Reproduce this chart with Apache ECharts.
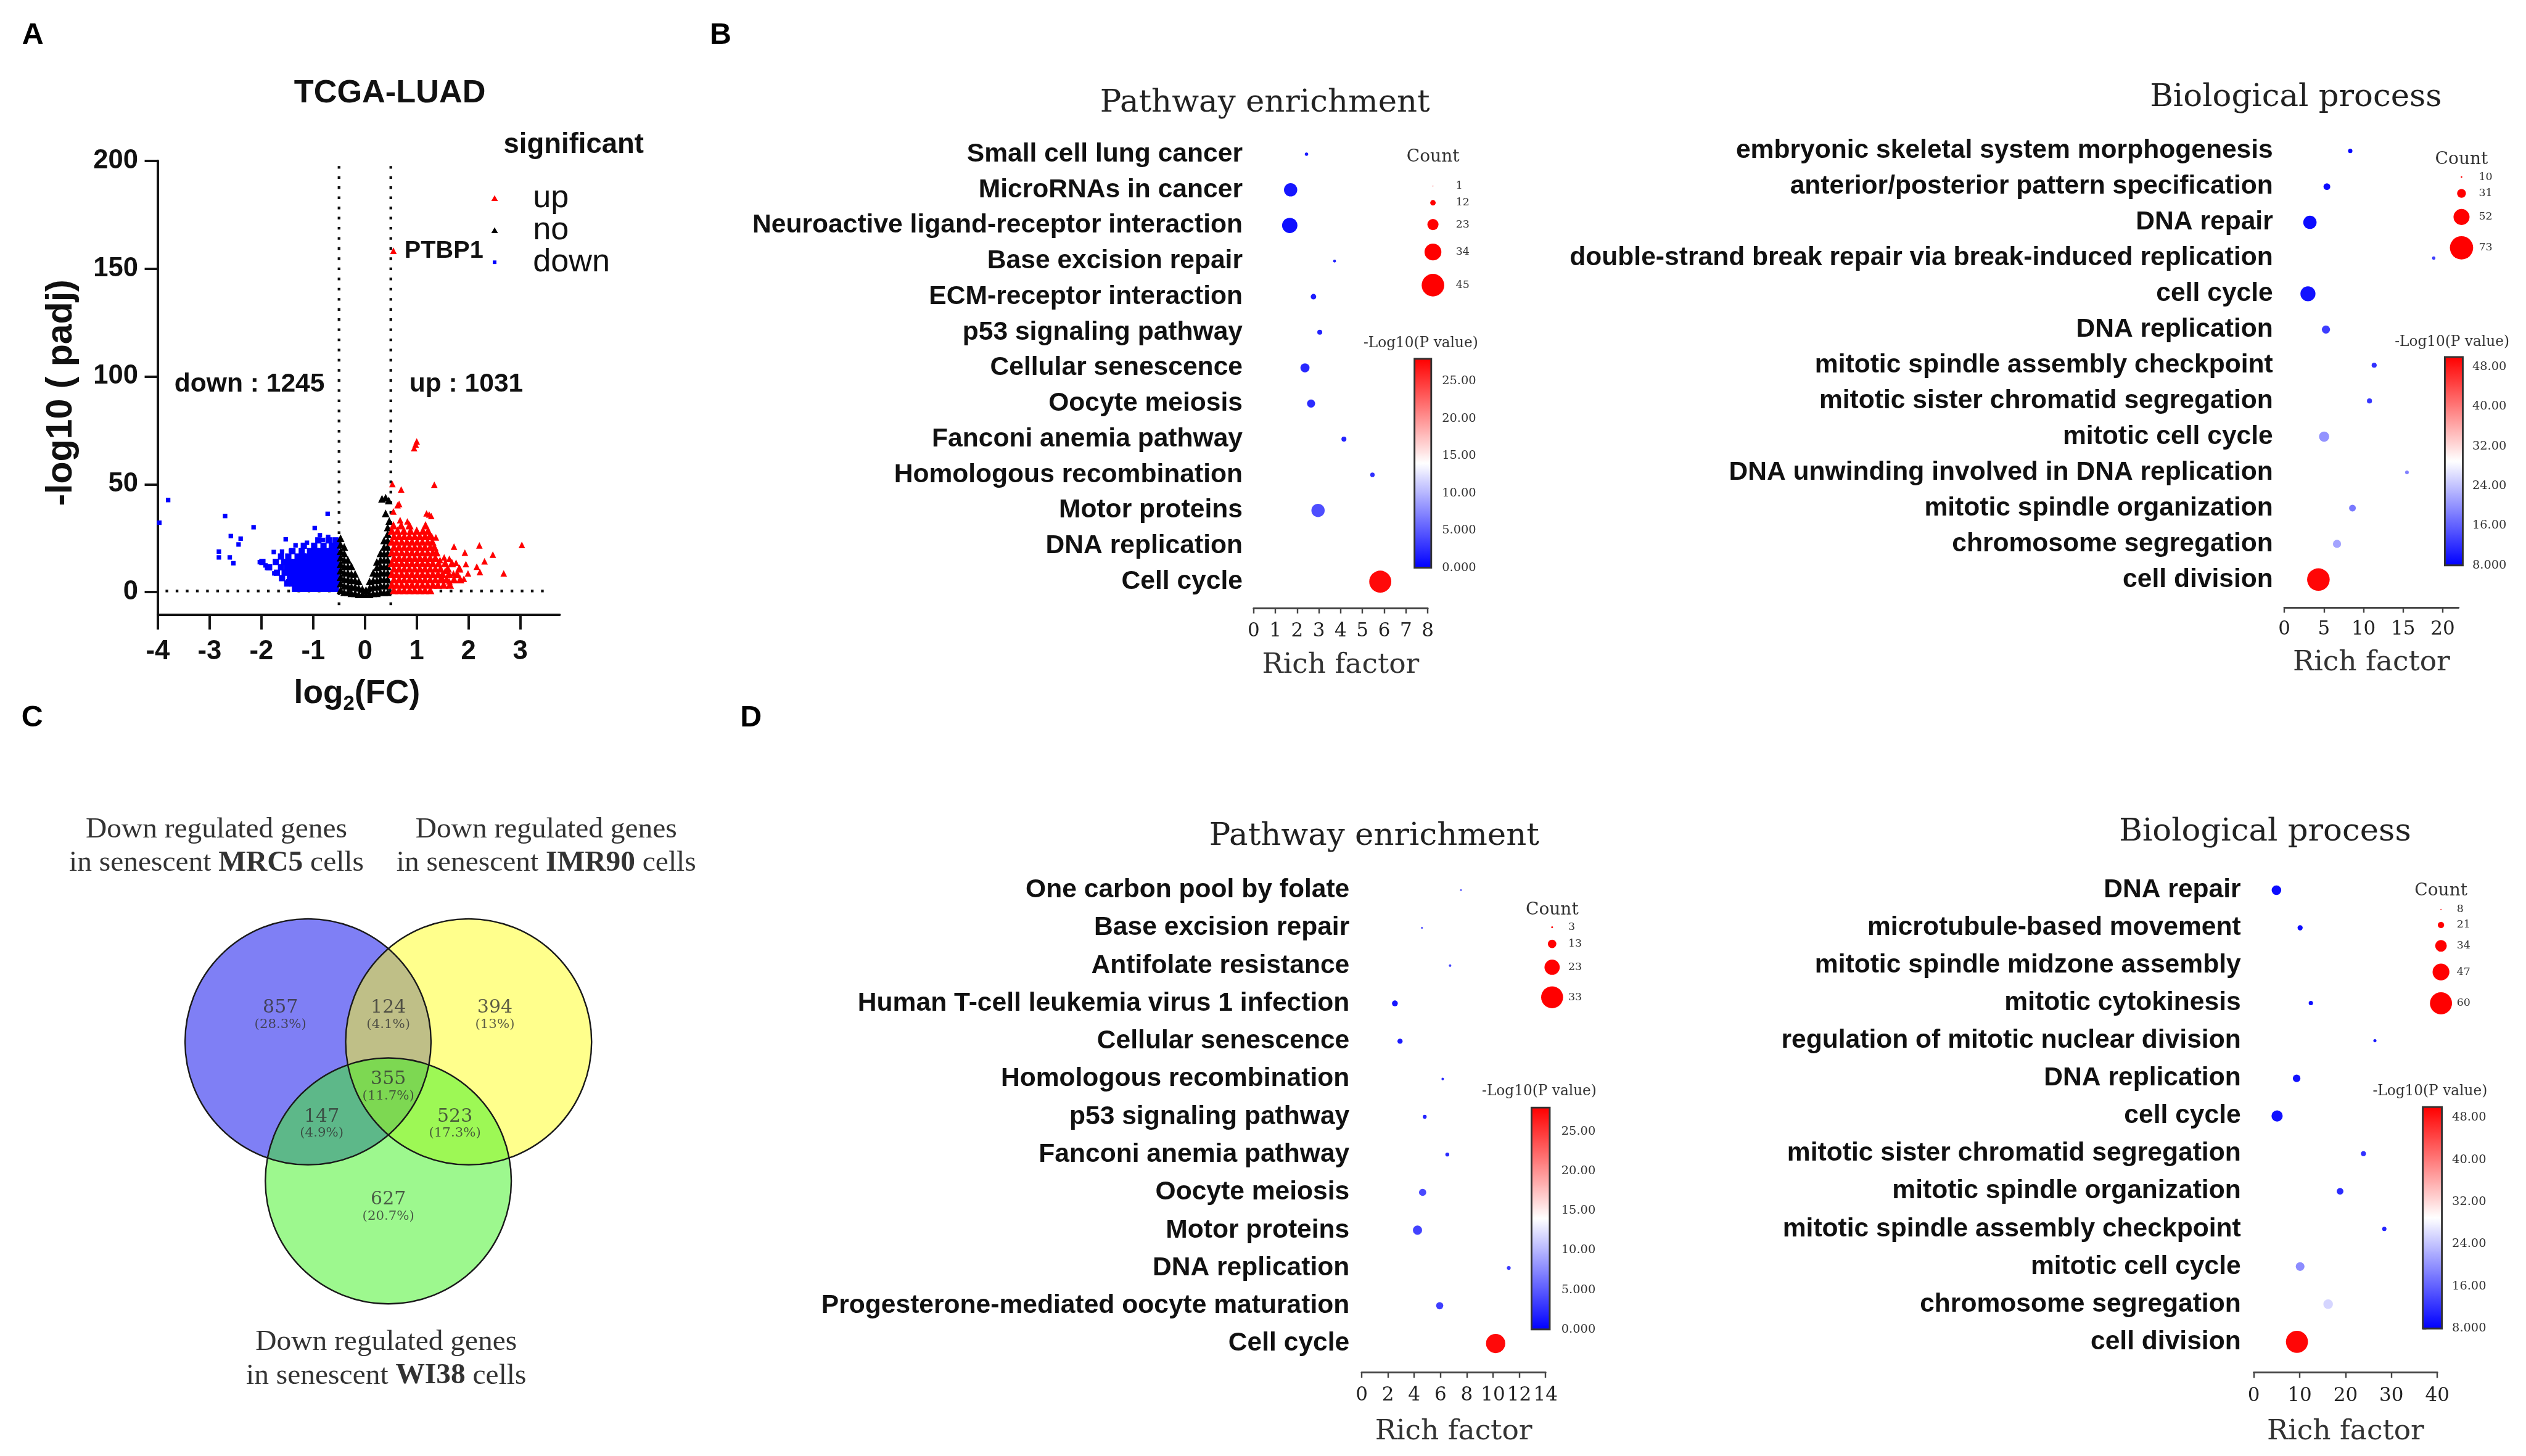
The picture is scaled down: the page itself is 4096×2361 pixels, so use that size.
<!DOCTYPE html>
<html><head><meta charset="utf-8">
<script src="https://cdn.jsdelivr.net/npm/echarts@6/dist/echarts.min.js"></script>
<style>html,body{margin:0;padding:0;background:#fff}#c{width:4096px;height:2361px}</style>
</head><body><div id="c"></div>
<script>
const S = 0.968;
const P = v => v * S;
const SANS = '"Liberation Sans", Arial, Helvetica, sans-serif';
const SERIF = '"Liberation Serif", "Times New Roman", serif';
const SERIF2 = '"DejaVu Serif", "Liberation Serif", serif';

// ================= DATA =================
// Panel A: volcano (log2FC, -log10 padj)
const volcanoXTicks = [-4, -3, -2, -1, 0, 1, 2, 3];
const volcanoYTicks = [0, 50, 100, 150, 200];
const foldThresholds = [-0.5, 0.5];
const padjLine = 0.5;
const ptbp1 = [0.55, 158.3];
const upCount = 1031, downCount = 1245;

// dense cloud of up-regulated genes
const volcanoUpDense = [
 [0.56,1],[0.66,1],[0.76,1],[0.86,1],[0.96,1],[1.06,1],[1.16,1],[1.26,1],
 [0.52,3.5],[0.61,3.5],[0.71,3.5],[0.81,3.5],[0.91,3.5],[1.01,3.5],[1.11,3.5],[1.21,3.5],[1.31,3.5],[1.41,3.5],[1.52,3.5],[1.64,3.5],
 [0.56,6],[0.66,6],[0.76,6],[0.86,6],[0.96,6],[1.06,6],[1.16,6],[1.26,6],[1.36,6],[1.46,6],[1.58,6],[1.72,6],[1.84,6],
 [0.52,8.5],[0.61,8.5],[0.71,8.5],[0.81,8.5],[0.91,8.5],[1.01,8.5],[1.11,8.5],[1.21,8.5],[1.31,8.5],[1.41,8.5],[1.5,8.5],[1.62,8.5],[1.78,8.5],
 [0.56,11],[0.66,11],[0.76,11],[0.86,11],[0.96,11],[1.06,11],[1.16,11],[1.26,11],[1.36,11],[1.46,11],[1.6,11],[1.82,11],
 [0.52,13.5],[0.61,13.5],[0.71,13.5],[0.81,13.5],[0.91,13.5],[1.01,13.5],[1.11,13.5],[1.21,13.5],[1.31,13.5],[1.42,13.5],[1.55,13.5],[1.68,13.5],
 [0.56,16],[0.66,16],[0.76,16],[0.86,16],[0.96,16],[1.06,16],[1.16,16],[1.26,16],[1.36,16],
 [0.52,18.5],[0.61,18.5],[0.71,18.5],[0.81,18.5],[0.91,18.5],[1.01,18.5],[1.11,18.5],[1.21,18.5],[1.31,18.5],[1.38,18.5],
 [0.56,21],[0.66,21],[0.76,21],[0.86,21],[0.96,21],[1.06,21],[1.16,21],[1.26,21],[1.34,21],
 [0.52,23.5],[0.61,23.5],[0.71,23.5],[0.81,23.5],[0.91,23.5],[1.01,23.5],[1.11,23.5],[1.21,23.5],[1.3,23.5],
 [0.56,26],[0.66,26],[0.76,26],[0.86,26],[0.96,26],[1.06,26],[1.16,26],[1.25,26],
 [0.52,28.5],[0.63,28.5],[0.75,28.5],[0.88,28.5],[1.0,28.5],[1.12,28.5],[1.22,28.5],
 [0.55,31],[0.7,31],[0.86,31],[1.17,31]
];
// scattered up-regulated genes
const volcanoUpSparse = [
 [1.00,69.9],[0.95,66.8],[0.98,68.5],[0.53,50.1],[0.70,47.6],[1.34,49.8],[0.66,40.9],[0.63,40.3],[0.55,37.4],
 [1.19,36.5],[1.28,35.3],[1.24,36.0],[0.68,33.4],[0.82,32.8],[1.72,21.1],[2.21,21.7],[3.03,21.9],[1.93,18.3],
 [2.47,17.4],[2.31,14.3],[2.16,11.8],[2.22,9.3],[2.68,8.7],[1.91,6.2],[1.99,8.7],[1.95,13.0],
 [1.45,14.9],[1.53,16.1],[1.63,15.5],[1.76,13.6],[1.83,11.2],[1.55,9.9],[1.71,8.7],[1.50,6.2],[1.63,5.0],
 [1.40,3.2],[1.29,26],[1.37,25.4]
];
const volcanoNo = [
 [-0.47,1],[-0.47,4],[-0.47,7],[-0.47,10],[-0.47,13],[-0.47,16],[-0.47,19],[-0.47,22],[-0.47,25],
 [-0.40,0],[-0.40,3],[-0.40,6],[-0.40,9],[-0.40,12],[-0.40,15],[-0.40,18],[-0.40,21],
 [-0.33,0],[-0.33,3],[-0.33,6],[-0.33,9],[-0.33,12],[-0.33,15],
 [-0.26,-0.5],[-0.26,2.5],[-0.26,5.5],[-0.26,8.5],[-0.26,12],
 [-0.19,-0.5],[-0.19,2.5],[-0.19,5.5],[-0.19,8.5],
 [-0.12,-1],[-0.12,2],[-0.12,5],
 [-0.05,-1],[-0.05,1.5],[0.02,-1],[0.02,1],
 [0.09,-1],[0.09,2],[0.09,5],
 [0.16,-0.5],[0.16,2.5],[0.16,5.5],[0.16,9],
 [0.23,-0.5],[0.23,2.5],[0.23,5.5],[0.23,8.5],[0.23,11.5],[0.23,14],
 [0.30,0],[0.30,3],[0.30,6],[0.30,9],[0.30,12],[0.30,15],[0.30,18],
 [0.37,0],[0.37,3],[0.37,6],[0.37,9],[0.37,12],[0.37,15],[0.37,18],[0.37,21],[0.37,24],
 [0.44,0],[0.44,3],[0.44,6],[0.44,9],[0.44,12],[0.44,15],[0.44,18],[0.44,21],[0.44,24],[0.44,27],[0.44,30],
 [0.33,43.3],[0.40,43.8],[0.46,42.5],[0.40,36.5],[0.47,33]
];
// dense cloud of down-regulated genes
const volcanoDownDense = [
 [-1.35,1.5],[-1.25,1.5],[-1.15,1.5],[-1.05,1.5],[-0.95,1.5],[-0.85,1.5],[-0.75,1.5],[-0.65,1.5],[-0.56,1.5],
 [-1.5,4],[-1.4,4],[-1.3,4],[-1.2,4],[-1.1,4],[-1.0,4],[-0.9,4],[-0.8,4],[-0.7,4],[-0.6,4],[-0.52,4],
 [-1.6,6.5],[-1.45,6.5],[-1.35,6.5],[-1.25,6.5],[-1.15,6.5],[-1.05,6.5],[-0.95,6.5],[-0.85,6.5],[-0.75,6.5],[-0.65,6.5],[-0.56,6.5],
 [-1.7,9],[-1.55,9],[-1.45,9],[-1.35,9],[-1.25,9],[-1.15,9],[-1.05,9],[-0.95,9],[-0.85,9],[-0.75,9],[-0.65,9],[-0.55,9],
 [-1.85,11.5],[-1.62,11.5],[-1.5,11.5],[-1.4,11.5],[-1.3,11.5],[-1.2,11.5],[-1.1,11.5],[-1.0,11.5],[-0.9,11.5],[-0.8,11.5],[-0.7,11.5],[-0.6,11.5],[-0.52,11.5],
 [-1.98,14],[-1.72,14],[-1.56,14],[-1.45,14],[-1.35,14],[-1.25,14],[-1.15,14],[-1.05,14],[-0.95,14],[-0.85,14],[-0.75,14],[-0.65,14],[-0.55,14],
 [-1.62,16.5],[-1.48,16.5],[-1.3,16.5],[-1.2,16.5],[-1.1,16.5],[-1.0,16.5],[-0.9,16.5],[-0.8,16.5],[-0.7,16.5],[-0.6,16.5],[-0.52,16.5],
 [-1.4,19],[-1.22,19],[-1.06,19],[-0.95,19],[-0.85,19],[-0.75,19],[-0.66,19],[-0.56,19],
 [-1.18,21.5],[-0.98,21.5],[-0.8,21.5],[-0.64,21.5],[-0.54,21.5],
 [-0.9,24],[-0.7,24],[-0.57,24]
];
// scattered down-regulated genes
const volcanoDownSparse = [
 [-3.80,42.7],[-3.97,32.2],[-2.70,35.3],[-2.15,30.1],[-2.59,26.0],[-2.40,24.8],[-2.44,22.1],[-2.82,18.8],
 [-2.82,16.1],[-2.61,16.1],[-2.54,13.4],[-0.72,36.3],[-0.97,29.7],[-1.53,24.5],[-0.87,26.4],[-0.71,25.6],
 [-1.76,18.6],[-1.60,18.8],[-1.34,21.7],[-1.43,19.2],[-2.03,13.9],[-1.92,12.4],[-1.89,11.2],[-1.75,8.7],
 [-1.48,5.0],[-1.33,2.5],[-1.12,22.9],[-0.81,24.2],[-0.55,22.3],[-0.63,19.2]
];

// Panel B left: KEGG pathway enrichment
const bLeftCats = ['Small cell lung cancer','MicroRNAs in cancer','Neuroactive ligand-receptor interaction','Base excision repair','ECM-receptor interaction','p53 signaling pathway','Cellular senescence','Oocyte meiosis','Fanconi anemia pathway','Homologous recombination','Motor proteins','DNA replication','Cell cycle'];
const bLeftRich = [2.43, 1.70, 1.66, 3.72, 2.75, 3.04, 2.36, 2.64, 4.15, 5.46, 2.96, 7.7, 5.82];
const bLeftCount = [8, 27, 31, 7, 12, 11, 19, 17, 11, 10, 27, 10, 44];
const bLeftLogP = [1.5, 1.2, 0.8, 1.8, 1.6, 2.0, 2.2, 2.4, 2.0, 2.6, 4.3, 3.0, 27.5];
const bLeftLegendCounts = [1, 12, 23, 34, 45];

// Panel B right: GO biological process
const bRightCats = ['embryonic skeletal system morphogenesis','anterior/posterior pattern specification','DNA repair','double-strand break repair via break-induced replication','cell cycle','DNA replication','mitotic spindle assembly checkpoint','mitotic sister chromatid segregation','mitotic cell cycle','DNA unwinding involved in DNA replication','mitotic spindle organization','chromosome segregation','cell division'];
const bRightRich = [8.32, 5.37, 3.23, 18.86, 2.98, 5.25, 11.34, 10.75, 5.02, 15.48, 8.6, 6.65, 4.3];
const bRightCount = [18, 25, 44, 15, 49, 29, 20, 20, 35, 16, 25, 29, 71];
const bRightLogP = [8.5, 9, 9, 13, 9.5, 13, 12, 12.5, 20, 18.5, 18, 21.5, 49.5];
const bRightLegendCounts = [10, 31, 52, 73];

// Panel D left: KEGG pathway enrichment
const dLeftCats = ['One carbon pool by folate','Base excision repair','Antifolate resistance','Human T-cell leukemia virus 1 infection','Cellular senescence','Homologous recombination','p53 signaling pathway','Fanconi anemia pathway','Oocyte meiosis','Motor proteins','DNA replication','Progesterone-mediated oocyte maturation','Cell cycle'];
const dLeftRich = [7.56, 4.59, 6.73, 2.53, 2.92, 6.17, 4.8, 6.52, 4.64, 4.25, 11.2, 5.94, 10.2];
const dLeftCount = [3, 3, 4, 9, 8, 4, 6, 6, 11, 14, 6, 11, 29];
const dLeftLogP = [4.5, 3.5, 3.5, 1.2, 1.5, 2.5, 2.0, 2.2, 4.0, 3.6, 3.2, 3.4, 27.5];
const dLeftLegendCounts = [3, 13, 23, 33];

// Panel D right: GO biological process
const dRightCats = ['DNA repair','microtubule-based movement','mitotic spindle midzone assembly','mitotic cytokinesis','regulation of mitotic nuclear division','DNA replication','cell cycle','mitotic sister chromatid segregation','mitotic spindle organization','mitotic spindle assembly checkpoint','mitotic cell cycle','chromosome segregation','cell division'];
const dRightRich = [4.93, 10.09, null, 12.43, 26.4, 9.33, 5.07, 23.9, 18.8, 28.45, 10.09, 16.2, 9.4];
const dRightCount = [29, 18, null, 16, 13, 24, 33, 18, 22, 16, 27, 29, 60];
const dRightLogP = [9, 9, null, 9, 10, 9.5, 9.5, 12, 11.5, 11, 19.5, 25.5, 49.5];
const dRightLegendCounts = [8, 21, 34, 47, 60];

// Panel C: Venn
const vennSets = ['MRC5', 'IMR90', 'WI38'];
const vennCounts = [857, 124, 394, 355, 147, 523, 627];
const vennPercents = [28.3, 4.1, 13, 11.7, 4.9, 17.3, 20.7];

// ================= LAYOUT / BUILD =================
const grids = [], xAxes = [], yAxes = [], series = [], visualMaps = [], graphics = [];
function addGrid(g) { grids.push(Object.assign({ containLabel: false, outerBoundsMode: 'none' }, g)); return grids.length - 1; }
function txt(x, y, text, style, extra) {
  graphics.push(Object.assign({ type: 'text', x: P(x), y: P(y), silent: true,
    style: Object.assign({ text: text, align: 'center', verticalAlign: 'middle', fill: '#111' }, style) }, extra || {}));
}

// ---- Panel A: volcano ----
const vg0 = addGrid({ left: P(264.3), top: P(269.4), width: P(673.2), height: P(760.1) });
xAxes.push({ gridIndex: vg0, type: 'value', min: -4, max: 3.76,
  axisLine: { show: true, onZero: false, lineStyle: { color: '#111', width: P(4) } },
  axisTick: { show: true, length: P(25), lineStyle: { color: '#111', width: P(4) }, customValues: volcanoXTicks },
  axisLabel: { customValues: volcanoXTicks, margin: P(40), fontFamily: SANS, fontWeight: 'bold', fontSize: P(45), color: '#111' },
  splitLine: { show: false } });
yAxes.push({ gridIndex: vg0, type: 'value', min: -10.4, max: 200,
  axisLine: { show: true, onZero: false, lineStyle: { color: '#111', width: P(4) } },
  axisTick: { show: true, length: P(22), lineStyle: { color: '#111', width: P(4) }, customValues: volcanoYTicks },
  axisLabel: { customValues: volcanoYTicks, margin: P(33), fontFamily: SANS, fontWeight: 'bold', fontSize: P(45), color: '#111' },
  splitLine: { show: false } });
const dotStyle = { color: '#111', width: P(4.5), type: [P(4.5), P(12.5)] };
foldThresholds.forEach(fx => series.push({ type: 'line', xAxisIndex: 0, yAxisIndex: 0, symbol: 'none', silent: true,
  data: [[fx, -6], [fx, 200]], lineStyle: dotStyle, z: 1 }));
series.push({ type: 'line', xAxisIndex: 0, yAxisIndex: 0, symbol: 'none', silent: true,
  data: [[-3.85, padjLine], [3.58, padjLine]], lineStyle: dotStyle, z: 1 });
series.push({ name: 'down', type: 'scatter', xAxisIndex: 0, yAxisIndex: 0, symbol: 'rect', symbolSize: P(10.5),
  itemStyle: { color: '#0000ff', opacity: 1 }, data: volcanoDownDense, silent: true });
series.push({ name: 'down', type: 'scatter', xAxisIndex: 0, yAxisIndex: 0, symbol: 'rect', symbolSize: P(7.5),
  itemStyle: { color: '#0000ff', opacity: 1 }, data: volcanoDownSparse, silent: true });
series.push({ name: 'no', type: 'scatter', xAxisIndex: 0, yAxisIndex: 0, symbol: 'triangle', symbolSize: P(13),
  itemStyle: { color: '#000000', opacity: 1 }, data: volcanoNo, silent: true });
series.push({ name: 'up', type: 'scatter', xAxisIndex: 0, yAxisIndex: 0, symbol: 'triangle', symbolSize: P(14),
  itemStyle: { color: '#ff0000', opacity: 1 }, data: volcanoUpDense, silent: true });
series.push({ name: 'up', type: 'scatter', xAxisIndex: 0, yAxisIndex: 0, symbol: 'triangle', symbolSize: P(11),
  itemStyle: { color: '#ff0000', opacity: 1 }, silent: true,
  data: volcanoUpSparse.concat([{ value: ptbp1, label: { show: true, formatter: 'PTBP1', position: 'right', distance: P(13),
    fontFamily: SANS, fontWeight: 'bold', fontSize: P(41), color: '#111' } }]) });

txt(55, 60, 'A', { fontFamily: SANS, fontWeight: 'bold', fontSize: P(50), fill: '#000' });
txt(1207, 60, 'B', { fontFamily: SANS, fontWeight: 'bold', fontSize: P(50), fill: '#000' });
txt(54, 1203, 'C', { fontFamily: SANS, fontWeight: 'bold', fontSize: P(50), fill: '#000' });
txt(1258, 1203, 'D', { fontFamily: SANS, fontWeight: 'bold', fontSize: P(50), fill: '#000' });
txt(653, 157, 'TCGA-LUAD', { fontFamily: SANS, fontWeight: 'bold', fontSize: P(54) });
txt(961, 243, 'significant', { fontFamily: SANS, fontWeight: 'bold', fontSize: P(47) });
txt(418, 644, 'down : ' + downCount, { fontFamily: SANS, fontWeight: 'bold', fontSize: P(44) });
txt(781, 644, 'up : ' + upCount, { fontFamily: SANS, fontWeight: 'bold', fontSize: P(44) });
txt(103, 658, '-log10 ( padj)', { fontFamily: SANS, fontWeight: 'bold', fontSize: P(61) }, { rotation: Math.PI / 2 });
txt(598, 1163, '{m|log}{s|2}{m|(FC)}', { fontFamily: SANS, fontWeight: 'bold', fontSize: P(55),
  rich: { m: { fontFamily: SANS, fontWeight: 'bold', fontSize: P(55), lineHeight: P(68), fill: '#111' },
          s: { fontFamily: SANS, fontWeight: 'bold', fontSize: P(34), lineHeight: P(34), verticalAlign: 'bottom', fill: '#111' } } });

// ---- Bubble panels ----
const panels = [
  { title: 'Pathway enrichment', cats: bLeftCats, rich: bLeftRich, count: bLeftCount, logp: bLeftLogP, lc: bLeftLegendCounts,
    xMax: 8, xTicks: [0,1,2,3,4,5,6,7,8], cMin: 0, cMax: 28, cTicks: [0,5,10,15,20,25], size: [0.867, -1.2],
    L: { x0: 2100, x1: 2391.6, row0: 258.3, step: 59.67, axisY: 1018.6, labelRight: 2081.6, tickY: 1057.5, nameY: 1114.4,
         title: [2119, 173.7], countX: 2400.4, countY0: 311.8, countGap: 22.5, countDx: 38.3, countTitleY: 263.4,
         bar: [2369.5, 601, 28, 350], barTitle: [2380, 575.6], barMargin: 18 } },
  { title: 'Biological process', cats: bRightCats, rich: bRightRich, count: bRightCount, logp: bRightLogP, lc: bRightLegendCounts,
    xMax: 22, xTicks: [0,5,10,15,20], cMin: 8, cMax: 50, cTicks: [8,16,24,32,40,48], size: [0.576, -3.06],
    L: { x0: 3826.6, x1: 4118.5, row0: 252.8, step: 59.84, axisY: 1017.4, labelRight: 3807.6, tickY: 1054.2, nameY: 1111,
         title: [3846, 163.6], countX: 4123.4, countY0: 296.6, countGap: 18.65, countDx: 29, countTitleY: 267.6,
         bar: [4095.5, 598, 30, 349], barTitle: [4107.5, 573.3], barMargin: 16 } },
  { title: 'Pathway enrichment', cats: dLeftCats, rich: dLeftRich, count: dLeftCount, logp: dLeftLogP, lc: dLeftLegendCounts,
    xMax: 14, xTicks: [0,2,4,6,8,10,12,14], cMin: 0, cMax: 28, cTicks: [0,5,10,15,20,25], size: [1.12, -0.26],
    L: { x0: 2281, x1: 2589, row0: 1491, step: 63.3, axisY: 2299, labelRight: 2260.6, tickY: 2338, nameY: 2398.5,
         title: [2302, 1401.5], countX: 2600, countY0: 1553.3, countGap: 19.2, countDx: 27, countTitleY: 1524.2,
         bar: [2565.5, 1855.5, 30.5, 371.5], barTitle: [2578.5, 1828.8], barMargin: 19.5 } },
  { title: 'Biological process', cats: dRightCats, rich: dRightRich, count: dRightCount, logp: dRightLogP, lc: dRightLegendCounts,
    xMax: 40, xTicks: [0,10,20,30,40], cMin: 8, cMax: 50, cTicks: [8,16,24,32,40,48], size: [0.677, -3.6],
    L: { x0: 3775.5, x1: 4082.8, row0: 1491.2, step: 63.05, axisY: 2299.2, labelRight: 3753.8, tickY: 2338.4, nameY: 2398.5,
         title: [3794.4, 1394.3], countX: 4089, countY0: 1523.4, countGap: 19.9, countDx: 26.4, countTitleY: 1492.8,
         bar: [4058.5, 1854.5, 32, 371], barTitle: [4070.6, 1828], barMargin: 17 } }
];

const cbFormat = v => (Math.abs(v) < 10 ? v.toFixed(3) : v.toFixed(2));

panels.forEach(pn => {
  const L = pn.L;
  const [a, b] = pn.size;
  const rawSize = c => Math.max(a * c + b, 1.5);
  const sizeFn = c => P(rawSize(c));
  const gTop = L.row0 - L.step / 2, gH = L.step * 13;
  const gi = addGrid({ left: P(L.x0), top: P(gTop), width: P(L.x1 - L.x0), height: P(gH) });
  xAxes.push({ gridIndex: gi, type: 'value', min: 0, max: pn.xMax, offset: P(L.axisY - (gTop + gH)),
    axisLine: { show: true, onZero: false, lineStyle: { color: '#444', width: P(3) } },
    axisTick: { show: true, inside: false, length: P(9), lineStyle: { color: '#444', width: P(2.5) }, customValues: pn.xTicks },
    axisLabel: { customValues: pn.xTicks, margin: P(L.tickY - L.axisY - 16), fontFamily: SERIF2, fontSize: P(32), color: '#222' },
    splitLine: { show: false } });
  const xi = xAxes.length - 1;
  yAxes.push({ gridIndex: gi, type: 'category', data: pn.cats, inverse: true,
    axisLine: { show: false }, axisTick: { show: false }, splitLine: { show: false },
    axisLabel: { interval: 0, margin: P(L.x0 - L.labelRight), fontFamily: SANS, fontWeight: 'bold', fontSize: P(44), color: '#111' } });
  const yi = yAxes.length - 1;
  const data = [];
  pn.cats.forEach((c, i) => { if (pn.rich[i] != null) data.push([pn.rich[i], i, pn.count[i], pn.logp[i]]); });
  const si = series.length;
  series.push({ type: 'scatter', xAxisIndex: xi, yAxisIndex: yi, data: data, symbol: 'circle',
    symbolSize: v => sizeFn(v[2]), encode: { x: 0, y: 1 }, itemStyle: { opacity: 1 }, silent: true, z: 2 });

  // count legend (bubble size key)
  const ys = []; let y = L.countY0;
  pn.lc.forEach((c, i) => { if (i > 0) y += rawSize(pn.lc[i - 1]) / 2 + rawSize(c) / 2 + L.countGap; ys.push(y); });
  const cTop = L.countY0 - 40, cH = 260;
  const cg = addGrid({ left: P(L.countX - 20), top: P(cTop), width: P(40), height: P(cH) });
  xAxes.push({ gridIndex: cg, type: 'value', min: 0, max: 1, show: false });
  yAxes.push({ gridIndex: cg, type: 'value', min: 0, max: cH, inverse: true, show: false });
  series.push({ type: 'scatter', xAxisIndex: xAxes.length - 1, yAxisIndex: yAxes.length - 1, silent: true,
    data: pn.lc.map((c, i) => [0.5, ys[i] - cTop, c]), symbolSize: v => sizeFn(v[2]), itemStyle: { color: '#ff0000', opacity: 1 },
    label: { show: true, position: 'inside', align: 'left', offset: [P(L.countDx), 0], formatter: p => String(p.value[2]),
      fontFamily: SERIF2, fontSize: P(18), color: '#333' } });

  // colour bar (-log10 P)
  const [bx, by, bw, bh] = L.bar;
  const vgi = addGrid({ left: P(bx), top: P(by), width: P(bw), height: P(bh), show: true, borderColor: '#333',
    borderWidth: P(3), backgroundColor: 'rgba(0,0,0,0)', z: 10 });
  xAxes.push({ gridIndex: vgi, type: 'value', show: false });
  yAxes.push({ gridIndex: vgi, type: 'value', min: pn.cMin, max: pn.cMax, position: 'right',
    axisLine: { show: false }, splitLine: { show: false },
    axisTick: { show: true, length: P(6), lineStyle: { color: '#333', width: P(2) }, customValues: pn.cTicks },
    axisLabel: { customValues: pn.cTicks, margin: P(L.barMargin), formatter: cbFormat, fontFamily: SERIF2, fontSize: P(20), color: '#333' } });
  visualMaps.push({ type: 'continuous', seriesIndex: si, dimension: 3, min: pn.cMin, max: pn.cMax,
    calculable: false, hoverLink: false, inRange: { color: ['#0000ff', '#ffffff', '#ff0000'] },
    itemWidth: P(bw), itemHeight: P(bh), left: P(bx), top: P(by), padding: 0, orient: 'vertical', z: 4 });

  txt(L.title[0], L.title[1], pn.title, { fontFamily: SERIF2, fontSize: P(53), fill: '#222' });
  txt((L.x0 + L.x1) / 2, L.nameY, 'Rich factor', { fontFamily: SERIF2, fontSize: P(47), fill: '#333' });
  txt(L.countX, L.countTitleY, 'Count', { fontFamily: SERIF2, fontSize: P(29), fill: '#333' });
  txt(L.barTitle[0], L.barTitle[1], '-Log10(P value)', { fontFamily: SERIF2, fontSize: P(24), fill: '#333' });
});

// ---- Panel C: Venn ----
const vennUnit = 269;
const vennCx = 650.5, vennCy = 1822.9;
const vennCenters = [[-0.5, 0.2887], [0.5, 0.2887], [0, -0.5774]];
const vennFill = ['rgba(0,0,235,0.5)', 'rgba(255,255,25,0.5)', 'rgba(59,241,29,0.5)'];
const vennLabelPos = [[-0.672, 0.4535], [0, 0.4535], [0.6636, 0.4535], [0, 0.007], [-0.415, -0.2253], [0.4145, -0.2253], [0, -0.7416]];
const vgV = addGrid({ left: P(vennCx - 1.5 * vennUnit), top: P(vennCy - 1.5 * vennUnit), width: P(3 * vennUnit), height: P(3 * vennUnit) });
xAxes.push({ gridIndex: vgV, type: 'value', min: -1.5, max: 1.5, show: false });
yAxes.push({ gridIndex: vgV, type: 'value', min: -1.5, max: 1.5, show: false });
const vxi = xAxes.length - 1, vyi = yAxes.length - 1;
series.push({ type: 'scatter', xAxisIndex: vxi, yAxisIndex: vyi, silent: true, symbolSize: P(412),
  data: vennCenters.map((c, i) => ({ value: c, itemStyle: { color: vennFill[i], opacity: 1 } })) });
series.push({ type: 'scatter', xAxisIndex: vxi, yAxisIndex: vyi, silent: true, symbolSize: P(412),
  itemStyle: { color: 'rgba(0,0,0,0)', borderColor: '#1a1a1a', borderWidth: P(2.5), opacity: 1 }, data: vennCenters });
series.push({ type: 'scatter', xAxisIndex: vxi, yAxisIndex: vyi, silent: true, symbolSize: 1,
  itemStyle: { color: 'rgba(0,0,0,0)' }, data: vennLabelPos,
  label: { show: true, position: 'inside', formatter: p => '{n|' + vennCounts[p.dataIndex] + '}\n{p|(' + vennPercents[p.dataIndex] + '%)}',
    rich: { n: { fontFamily: SERIF2, fontSize: P(31), lineHeight: P(30), color: '#333' },
            p: { fontFamily: SERIF2, fontSize: P(22), lineHeight: P(25), color: '#333' } } } });
const vennLabelXY = [[362.6, 1417.6], [915, 1417.6], [647, 2276.9]];
vennSets.forEach((s, i) => {
  txt(vennLabelXY[i][0], vennLabelXY[i][1], 'Down regulated genes\nin senescent {b|' + s + '} cells',
    { fontFamily: SERIF, fontSize: P(49), lineHeight: P(56), fill: '#333',
      rich: { b: { fontFamily: SERIF, fontSize: P(49), fontWeight: 'bold', lineHeight: P(56), fill: '#333' } } });
});

const option = {
  animation: false,
  backgroundColor: '#ffffff',
  textStyle: { fontFamily: SANS },
  grid: grids, xAxis: xAxes, yAxis: yAxes, series: series, visualMap: visualMaps,
  legend: { orient: 'vertical', left: P(823), top: P(305), padding: 0, itemGap: 0, selectedMode: false,
    itemWidth: P(118), itemHeight: P(10),
    textStyle: { fontFamily: SANS, fontSize: P(54), color: '#111', lineHeight: P(48) },
    data: [ { name: 'up', icon: 'path://M5,0L10,9L0,9Z' },
            { name: 'no', icon: 'path://M5,0L10,9L0,9Z' },
            { name: 'down', icon: 'path://M0,0L6,0L6,6L0,6Z M-2,-2 M8,8' } ] },
  graphic: graphics
};
const chart = echarts.init(document.getElementById('c'), null, { renderer: 'canvas', width: 4096, height: 2361 });
chart.setOption(option);
</script>
</body></html>
